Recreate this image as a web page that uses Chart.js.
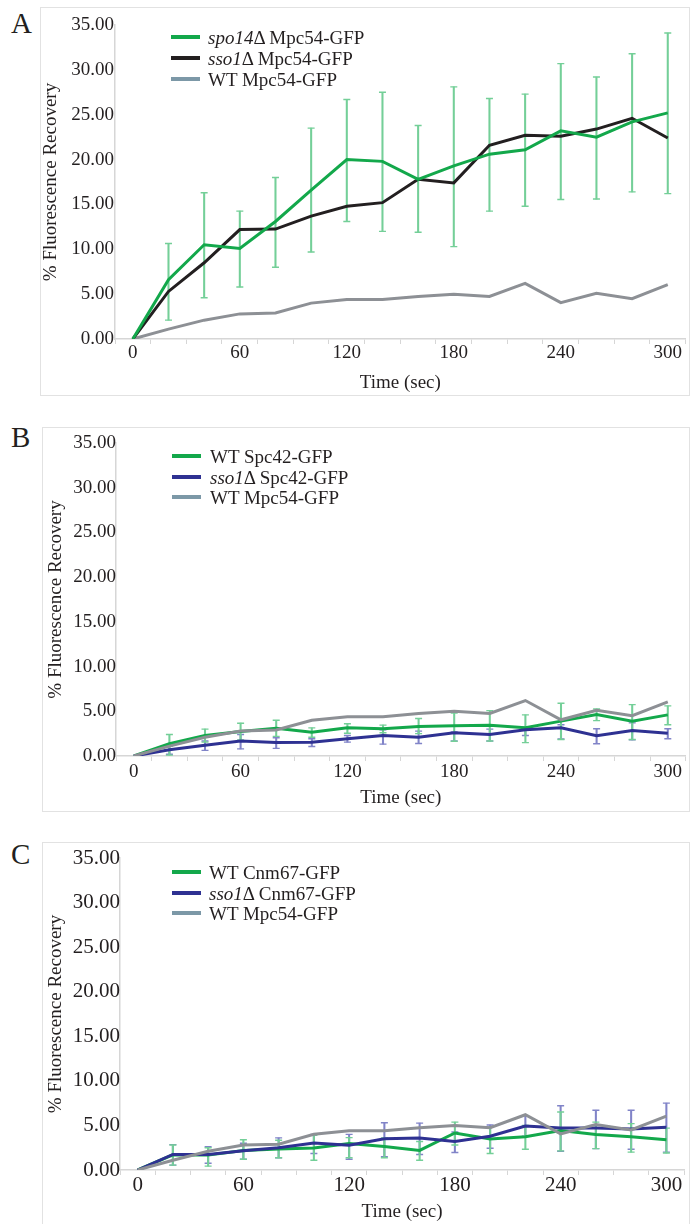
<!DOCTYPE html>
<html><head><meta charset="utf-8">
<script src="https://cdn.jsdelivr.net/npm/chart.js@4.4.1/dist/chart.umd.min.js"></script>
<style>
body{margin:0;width:691px;height:1224px;background:#fff;position:relative;overflow:hidden;font-family:"Liberation Serif","Times New Roman",serif;color:#231f20}
.box{position:absolute;border:1.5px solid #e2e2e2;box-sizing:border-box}
.letter{position:absolute;font-size:29px;line-height:29px}
canvas{position:absolute}
.row{position:absolute;height:21px;white-space:nowrap;font-size:19px;line-height:21px}
.sw{position:absolute;left:0;top:8.5px;width:29px;height:4px}
.row .t{position:absolute;top:0}
i{font-style:italic}
</style></head><body>
<div class="box" style="left:40px;top:7px;width:650px;height:389px"></div>
<div class="box" style="left:42px;top:427px;width:648px;height:385px"></div>
<div class="box" style="left:42px;top:842px;width:648px;height:400px"></div>
<div class="letter" style="left:11px;top:9px">A</div>
<div class="letter" style="left:11px;top:423px">B</div>
<div class="letter" style="left:11px;top:840px">C</div>
<canvas id="cA" width="655" height="390" style="left:36px;top:8px"></canvas>
<canvas id="cB" width="655" height="386" style="left:36px;top:428px"></canvas>
<canvas id="cC" width="655" height="381" style="left:36px;top:843px"></canvas>
<div id="legends"></div>
<script>
// ---- data ----
const timeLabels = ['0','20','40','60','80','100','120','140','160','180','200','220','240','260','280','300'];
const yTicks = [0,5,10,15,20,25,30,35];

const wtMpc54 = [0,1.1,2.1,2.8,2.9,4.0,4.4,4.4,4.75,5.0,4.75,6.2,4.05,5.1,4.5,6.05];

const spo14Mpc54   = [0,6.6,10.5,10.1,13.1,16.6,20.0,19.8,17.8,19.3,20.6,21.1,23.2,22.5,24.2,25.2];
const spo14Mpc54Hi = [null,10.65,16.3,14.25,18.0,23.5,26.7,27.5,23.8,28.1,26.8,27.3,30.7,29.2,31.8,34.1];
const spo14Mpc54Lo = [null,2.1,4.6,5.8,8.0,9.7,13.1,12.0,11.9,10.3,14.25,14.8,15.55,15.6,16.4,16.2];
const sso1Mpc54    = [0,5.3,8.5,12.2,12.25,13.7,14.8,15.2,17.8,17.4,21.6,22.7,22.6,23.4,24.6,22.4];

const wtSpc42   = [0,1.37,2.3,2.74,3.1,2.67,3.15,3.04,3.3,3.37,3.44,3.15,3.9,4.63,3.9,4.6];
const wtSpc42Hi = [null,2.4,3.0,3.67,4.0,3.15,3.6,3.45,4.2,4.8,5.07,4.6,5.9,5.25,5.74,5.6];
const wtSpc42Lo = [null,0.1,1.55,1.8,2.2,2.1,2.55,2.6,2.5,1.65,1.67,1.5,1.85,3.96,1.85,3.5];
const sso1Spc42   = [0,0.7,1.2,1.67,1.52,1.55,1.93,2.3,2.1,2.6,2.4,2.93,3.15,2.26,2.85,2.55];
const sso1Spc42Hi = [null,1.1,1.67,2.4,2.04,1.93,2.3,2.93,2.78,2.7,3.0,3.2,3.5,3.04,3.7,3.04];
const sso1Spc42Lo = [null,0.2,0.63,0.8,0.85,1.07,1.55,1.33,1.4,1.67,1.67,2.3,1.9,1.37,1.8,1.93];

const wtCnm67   = [0,1.7,1.67,2.2,2.35,2.47,2.96,2.63,2.2,4.15,3.49,3.74,4.44,3.98,3.74,3.4];
const wtCnm67Hi = [null,2.8,2.5,3.4,3.33,3.9,3.63,3.6,3.2,5.37,4.8,5.0,6.5,5.37,5.2,4.7];
const wtCnm67Lo = [null,0.55,0.44,1.2,1.37,1.1,1.37,1.37,1.1,2.8,1.85,2.33,2.15,2.4,2.0,1.9];
const sso1Cnm67   = [0,1.74,1.74,2.15,2.5,3.04,2.78,3.5,3.6,3.2,3.78,4.93,4.7,4.7,4.6,4.8];
const sso1Cnm67Hi = [null,2.85,2.6,3.0,3.6,4.0,4.0,5.3,5.26,4.26,5.04,6.1,7.2,6.7,6.7,7.5];
const sso1Cnm67Lo = [null,0.55,0.75,1.2,1.37,1.85,1.2,1.5,1.74,1.96,2.44,3.8,2.1,2.4,2.33,2.0];

const legendA = [['spo14','\u0394 Mpc54-GFP'],['sso1','\u0394 Mpc54-GFP'],['','WT Mpc54-GFP']];
const legendB = [['','WT Spc42-GFP'],['sso1','\u0394 Spc42-GFP'],['','WT Mpc54-GFP']];
const legendC = [['','WT Cnm67-GFP'],['sso1','\u0394 Cnm67-GFP'],['','WT Mpc54-GFP']];

// ---- styles ----
const GREEN='#13a84b', GREEN_ERR='#74cf98', BLACK='#231f20', GRAY='#8d9095', GRAY_SW='#7c98a7', BLUE='#2e3192', BLUE_ERR='#8184c8';
const FONT='"Liberation Serif","Times New Roman",serif';
const AXIS='#d6d6d6';

function seriesSets(values, color, order, hi, lo, errColor){
  const out=[{type:'line',data:values,borderColor:color,backgroundColor:color,borderWidth:3,pointRadius:0,tension:0,fill:false,order:order,borderJoinStyle:'miter'}];
  if(hi){
    out.push({type:'bar',data:hi.map((h,i)=>h==null?null:[lo[i],h]),backgroundColor:errColor,barThickness:1.4,grouped:false,order:20});
    out.push({type:'line',data:hi,showLine:false,pointStyle:'line',pointRadius:3.5,pointBorderColor:errColor,pointBackgroundColor:errColor,pointBorderWidth:1.4,order:20});
    out.push({type:'line',data:lo,showLine:false,pointStyle:'line',pointRadius:3.5,pointBorderColor:errColor,pointBackgroundColor:errColor,pointBorderWidth:1.4,order:20});
  }
  return out;
}

function panel(id, datasets, g){
  new Chart(document.getElementById(id),{
    type:'line',
    data:{labels:timeLabels,datasets:datasets},
    options:{
      responsive:false,animation:false,
      layout:{padding:{left:0,top:g.padTop,right:g.padRight,bottom:0}},
      plugins:{legend:{display:false},tooltip:{enabled:false}},
      scales:{
        x:{type:'category',offset:true,
          grid:{offset:true,drawOnChartArea:false,drawTicks:true,tickLength:5,color:AXIS,lineWidth:1},
          border:{display:true,color:AXIS,width:1.5},
          ticks:{autoSkip:false,maxRotation:0,minRotation:0,padding:g.xTickPad,color:BLACK,font:{family:FONT,size:g.tick,lineHeight:1},
            callback:function(v,i){return i%3===0?this.getLabelForValue(v):'';}},
          title:{display:true,text:'Time (sec)',color:BLACK,font:{family:FONT,size:19,lineHeight:1.2},padding:{top:0,bottom:g.xTitlePad}},
          afterFit:function(s){s.height=g.xH;}
        },
        y:{min:0,max:35,
          afterBuildTicks:function(s){s.ticks=yTicks.map(v=>({value:v}));},
          grid:{drawOnChartArea:false,drawTicks:false},
          border:{display:true,color:AXIS,width:1.5},
          ticks:{padding:g.yTickPad,color:BLACK,font:{family:FONT,size:g.tick,lineHeight:1.2},callback:v=>Number(v).toFixed(2)},
          title:{display:true,text:'% Fluorescence Recovery',color:BLACK,font:{family:FONT,size:19,lineHeight:1.2},padding:{top:g.yTitlePad,bottom:0}},
          afterFit:function(s){s.width=g.yW;}
        }
      }
    }
  });
}

panel('cA',[
  ...seriesSets(spo14Mpc54,GREEN,1,spo14Mpc54Hi,spo14Mpc54Lo,GREEN_ERR),
  ...seriesSets(sso1Mpc54,BLACK,2),
  ...seriesSets(wtMpc54,GRAY,3)
],{padTop:17,padRight:4,yW:79,xH:59,xTickPad:0,xTitlePad:3.6,yTickPad:1,yTitlePad:3.6,tick:19});

panel('cB',[
  ...seriesSets(wtSpc42,GREEN,3,wtSpc42Hi,wtSpc42Lo,GREEN_ERR),
  ...seriesSets(sso1Spc42,BLUE,2,sso1Spc42Hi,sso1Spc42Lo,BLUE_ERR),
  ...seriesSets(wtMpc54,GRAY,1)
],{padTop:15,padRight:5,yW:80,xH:58,xTickPad:1.5,xTitlePad:4.6,yTickPad:0,yTitlePad:8.6,tick:19});

panel('cC',[
  ...seriesSets(wtCnm67,GREEN,3,wtCnm67Hi,wtCnm67Lo,GREEN_ERR),
  ...seriesSets(sso1Cnm67,BLUE,2,sso1Cnm67Hi,sso1Cnm67Lo,BLUE_ERR),
  ...seriesSets(wtMpc54,GRAY,1)
],{padTop:15,padRight:7,yW:84,xH:54,xTickPad:0,xTitlePad:0.6,yTickPad:0,yTitlePad:8.6,tick:21});

// ---- legends (HTML text) ----
function legend(items, colors, left, textLeft, centers){
  const host=document.getElementById('legends');
  items.forEach((it,k)=>{
    const row=document.createElement('div');
    row.className='row';
    row.style.left=left+'px';
    row.style.top=(centers[k]-10.5)+'px';
    const sw=document.createElement('div');sw.className='sw';sw.style.background=colors[k];row.appendChild(sw);
    const t=document.createElement('span');t.className='t';t.style.left=(textLeft-left)+'px';
    if(it[0]){const em=document.createElement('i');em.textContent=it[0];t.appendChild(em);}
    t.appendChild(document.createTextNode(it[1]));
    row.appendChild(t);host.appendChild(row);
  });
}
legend(legendA,[GREEN,BLACK,GRAY_SW],171,208,[37,58,79]);
legend(legendB,[GREEN,BLUE,GRAY_SW],172,210,[456,477,497]);
legend(legendC,[GREEN,BLUE,GRAY_SW],172,209,[872,893,913]);
</script>
</body></html>
